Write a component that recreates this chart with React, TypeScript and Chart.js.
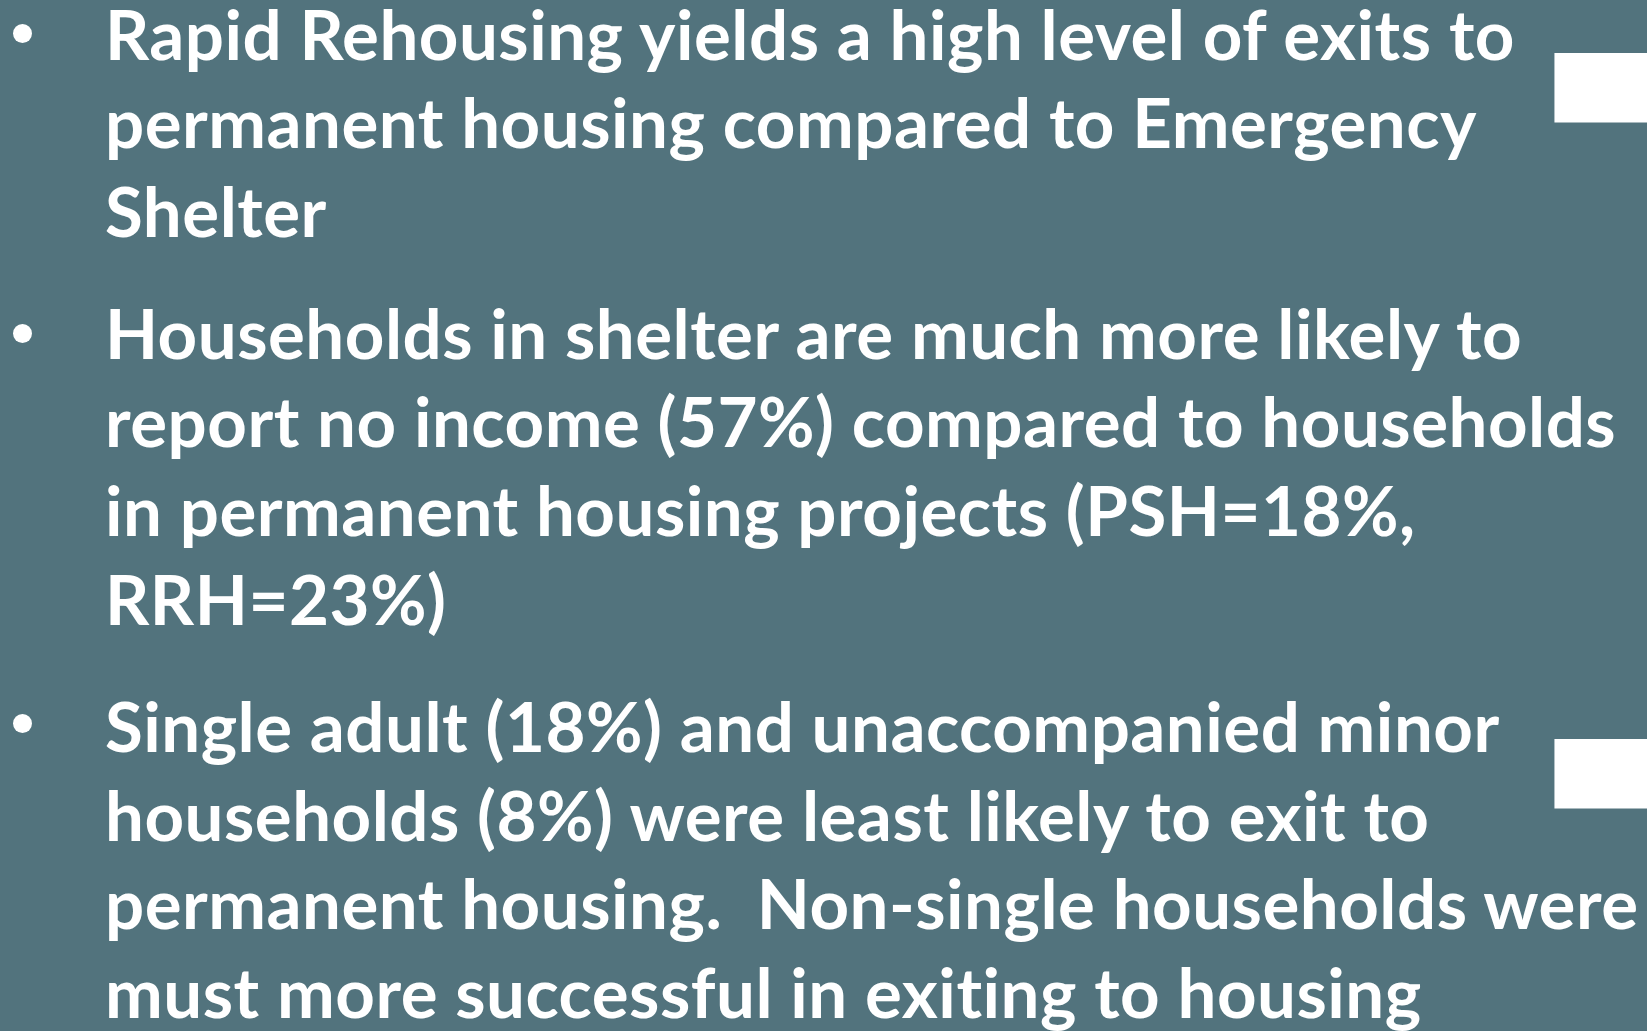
import React, { useEffect, useRef } from "react";
import { Chart, registerables } from "chart.js";

Chart.register(...registerables);

// ---- data ----
const categories = ["r1", "r2", "r3", "r4", "r5", "r6"];
const barStarts = [94.4, null, null, null, 94.4, null];
const barEnds = [100, null, null, null, 100, null];

const bullet1 = [
  "Rapid Rehousing yields a high level of exits to",
  "permanent housing compared to Emergency",
  "Shelter",
];
const bullet2 = [
  "Households in shelter are much more likely to",
  "report no income (57%) compared to households",
  "in permanent housing projects (PSH=18%,",
  "RRH=23%)",
];
const bullet3 = [
  "Single adult (18%) and unaccompanied minor",
  "households (8%) were least likely to exit to",
  "permanent housing.  Non-single households were",
  "must more successful in exiting to housing",
];

const W = 1647;
const H = 1031;
const BG = "#52737d";
const FONT = "Lato, 'Open Sans', sans-serif";
const FONT_SIZE = 69;
const LINE_H = 88.7;

const paragraphs = [
  { lines: bullet1, top: -10.5, dotY: 33 },
  { lines: bullet2, top: 288.5, dotY: 333 },
  { lines: bullet3, top: 681.8, dotY: 723 },
];

export default function App() {
  const canvasRef = useRef<HTMLCanvasElement | null>(null);

  useEffect(() => {
    document.body.style.margin = "0";
    const canvas = canvasRef.current;
    if (!canvas) return;
    const data = categories.map((_, i) =>
      barStarts[i] === null ? null : [barStarts[i] as number, barEnds[i] as number]
    );
    const chart = new Chart(canvas, {
      type: "bar",
      data: {
        labels: categories,
        datasets: [
          {
            data: data as any,
            backgroundColor: "#ffffff",
            borderWidth: 0,
            barThickness: 69,
          },
        ],
      },
      options: {
        indexAxis: "y",
        animation: false,
        responsive: false,
        maintainAspectRatio: false,
        layout: { padding: { top: 2, bottom: -3, left: 0, right: 0 } },
        plugins: { legend: { display: false }, tooltip: { enabled: false } },
        scales: {
          x: { display: false, min: 0, max: 100 },
          y: { display: false },
        },
      },
    });
    return () => chart.destroy();
  }, []);

  return (
    <div
      style={{
        position: "fixed",
        left: 0,
        top: 0,
        width: W,
        height: H,
        background: BG,
        overflow: "hidden",
      }}
    >
      <canvas
        ref={canvasRef}
        width={W}
        height={H}
        style={{ position: "absolute", left: 0, top: 0, width: W, height: H }}
      />
      {paragraphs.map((p, pi) => (
        <React.Fragment key={pi}>
          <div
            style={{
              position: "absolute",
              left: 13,
              top: p.dotY - 9.5,
              width: 19,
              height: 19,
              borderRadius: "50%",
              background: "#ffffff",
            }}
          />
          <div
            style={{
              position: "absolute",
              left: 105,
              top: p.top,
              fontFamily: FONT,
              fontWeight: 700,
              fontSize: FONT_SIZE,
              lineHeight: `${LINE_H}px`,
              letterSpacing: "0.5px",
              fontVariantLigatures: "none",
              color: "#ffffff",
              whiteSpace: "pre",
            }}
          >
            {p.lines.map((l, li) => (
              <div key={li}>{l}</div>
            ))}
          </div>
        </React.Fragment>
      ))}
    </div>
  );
}
